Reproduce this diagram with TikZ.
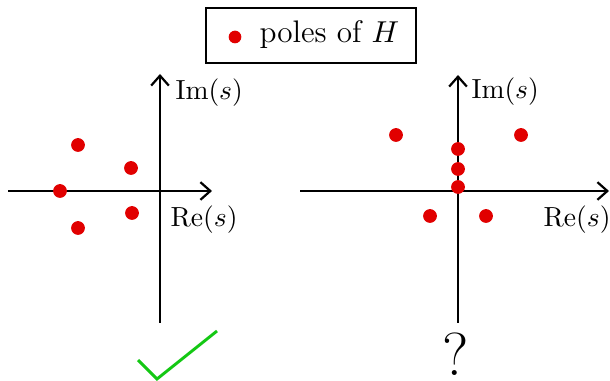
\documentclass[tikz,border=0pt]{standalone}
\usetikzlibrary{arrows.meta}
\definecolor{polered}{RGB}{225,0,0}
\definecolor{checkgreen}{RGB}{20,200,20}
\begin{document}
\begin{tikzpicture}[x=0.3623pt,y=-0.3623pt,
  axis/.style={line width=0.8pt,-{Straight Barb[length=3.6pt,width=6.4pt,line width=0.8pt]}},
  pole/.style={circle,fill=polered,inner sep=0pt,minimum size=5pt},
  lbl/.style={inner sep=0pt,anchor=west},
  legendbox/.style={draw,line width=0.45pt,minimum width=210*0.3623pt,minimum height=55*0.3623pt,inner sep=0pt}]
\useasboundingbox (0,0) rectangle (610,381);
% legend
\node[legendbox] (legend) at (311,35.5) {};
\node[pole,minimum size=4.6pt] (ldot) at (235,37) {};
\node[inner sep=0pt,anchor=base west,font=\fontsize{11.3}{13}\selectfont] (ltext) at (259,43) {poles of $H$};
% left plane
\coordinate (L1) at (8,191);
\coordinate (L2) at (212,191);
\coordinate (L3) at (160,323);
\coordinate (L4) at (160,74);
\draw[axis] (L1) -- (L2);
\draw[axis] (L3) -- (L4);
\node[lbl] (lim) at (175,93) {Im$(s)$};
\node[lbl] (lre) at (170,220) {Re$(s)$};
\foreach \n/\p in {a/{(78,145)},b/{(131,168)},c/{(60,191)},d/{(132,213)},e/{(78,228)}}
  \node[pole] (lp\n) at \p {};
% right plane
\coordinate (R1) at (300,191);
\coordinate (R2) at (609,191);
\coordinate (R3) at (458,323);
\coordinate (R4) at (458,75);
\draw[axis] (R1) -- (R2);
\draw[axis] (R3) -- (R4);
\node[lbl] (rim) at (471,92) {Im$(s)$};
\node[lbl] (rre) at (543,220) {Re$(s)$};
\foreach \n/\p in {a/{(396,135)},b/{(521,135)},c/{(458,149)},d/{(458,169)},e/{(458,187)},f/{(430,216)},g/{(486,216)}}
  \node[pole] (rp\n) at \p {};
% check mark
\coordinate (c1) at (138,360);
\coordinate (c2) at (157,379);
\coordinate (c3) at (217,331);
\draw[line width=1.05pt,color=checkgreen] (c1) -- (c2) -- (c3);
% question mark
\node[inner sep=0pt,font=\fontsize{22}{26}\selectfont] (q) at (456,354) {?};
\end{tikzpicture}
\end{document}
